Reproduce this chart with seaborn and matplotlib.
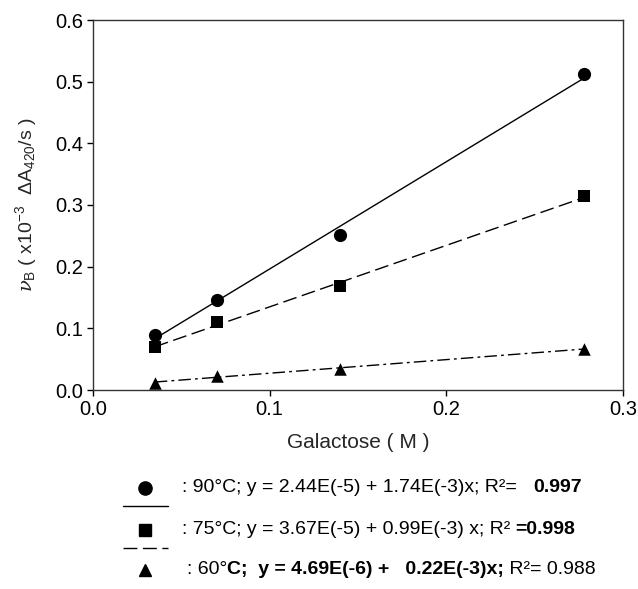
import matplotlib
matplotlib.use("Agg")
import matplotlib.pyplot as plt
import seaborn as sns
import numpy as np
import pandas as pd
from matplotlib.lines import Line2D
from matplotlib.offsetbox import TextArea, HPacker, AnnotationBbox

galactose = [0.035, 0.07, 0.14, 0.278]
v_90 = [0.090, 0.146, 0.251, 0.512]
v_75 = [0.069, 0.110, 0.169, 0.314]
v_60 = [0.012, 0.023, 0.034, 0.067]
series_names = ["90", "75", "60"]
x_ticks = [0.0, 0.1, 0.2, 0.3]
y_ticks = [0.0, 0.1, 0.2, 0.3, 0.4, 0.5, 0.6]

sns.set_style("ticks")
plt.rcParams['font.family'] = ['Liberation Sans', 'DejaVu Sans']
plt.rcParams['mathtext.fontset'] = 'custom'
plt.rcParams['mathtext.rm'] = 'Liberation Sans'
plt.rcParams['mathtext.it'] = 'DejaVu Serif:italic'
plt.rcParams['mathtext.bf'] = 'Liberation Sans:bold'

df = pd.DataFrame({
    "x": galactose * 3,
    "y": v_90 + v_75 + v_60,
    "T": [series_names[0]] * 4 + [series_names[1]] * 4 + [series_names[2]] * 4,
})

fig = plt.figure(figsize=(6.38, 5.89), dpi=100)
W, H = 638, 589
ax = fig.add_axes([93 / W, 1 - 390 / H, (623 - 93) / W, (390 - 20) / H])

dash75 = (0, (10, 4))
dash60 = (0, (9, 3, 2, 3))
styles = {
    "90": dict(marker="o", ms=9.5, ls="-"),
    "75": dict(marker="s", ms=8.5, ls=dash75),
    "60": dict(marker="^", ms=9, ls=dash60),
}
for name in series_names:
    sub = df[df["T"] == name]
    st = styles[name]
    sns.regplot(data=sub, x="x", y="y", ax=ax, ci=None, scatter=False, truncate=True,
                line_kws=dict(color="black", lw=1.0, ls=st["ls"]))
    sns.scatterplot(data=sub, x="x", y="y", ax=ax, marker=st["marker"], color="black",
                    s=st["ms"] ** 2, edgecolor="black", linewidth=0, zorder=5, legend=False)

ax.set_xlim(0, 0.3)
ax.set_ylim(0, 0.6)
ax.set_xticks(x_ticks)
ax.set_yticks(y_ticks)
ax.set_xticklabels([f"{t:.1f}" for t in x_ticks])
ax.set_yticklabels([f"{t:.1f}" for t in y_ticks])
ax.tick_params(direction="out", length=4, width=1, labelsize=14.5, colors="black", pad=3)
for sp in ax.spines.values():
    sp.set_visible(True)
    sp.set_linewidth(1.0)
    sp.set_color("#333333")
ax.set_xlabel("Galactose ( M )", fontsize=15, labelpad=10)
ax.set_ylabel(r"$\mathit{\nu}_{\rm B}$ ( x10$^{-3}$  $\Delta$A$_{420}$/s )", fontsize=14, labelpad=12)

# custom legend rows below the axes
rows = [
    (488, "o", 9.5, 182, [(": 90°C; y = 2.44E(-5) + 1.74E(-3)x; R²=   ", "normal"), ("0.997", "bold")], "-"),
    (530, "s", 8.5, 182, [(": 75°C; y = 3.67E(-5) + 0.99E(-3) x; R² ", "normal"), ("=0.998", "bold")], dash75),
    (570, "^", 9, 187, [(": 60°", "normal"), ("C;  y = 4.69E(-6) +   0.22E(-3)x;", "bold"), (" R²= 0.988", "normal")], None),
]
for ypix, mk, ms, xtxt, parts, ls in rows:
    yf = 1 - ypix / H
    fig.add_artist(Line2D([145 / W], [yf], marker=mk, ms=ms, color="black", ls="none",
                          transform=fig.transFigure))
    if ls is not None:
        yl = 1 - (ypix + 18) / H
        fig.add_artist(Line2D([123 / W, 168 / W], [yl, yl], color="black", lw=1.0, ls=ls,
                              transform=fig.transFigure))
    boxes = [TextArea(t, textprops=dict(fontsize=14, fontweight=w, color="black")) for t, w in parts]
    pack = HPacker(children=boxes, pad=0, sep=0, align="baseline")
    ab = AnnotationBbox(pack, (xtxt / W, yf), xycoords="figure fraction", box_alignment=(0, 0.5),
                        frameon=False, pad=0)
    fig.add_artist(ab)

fig.savefig("out.png", dpi=100)
